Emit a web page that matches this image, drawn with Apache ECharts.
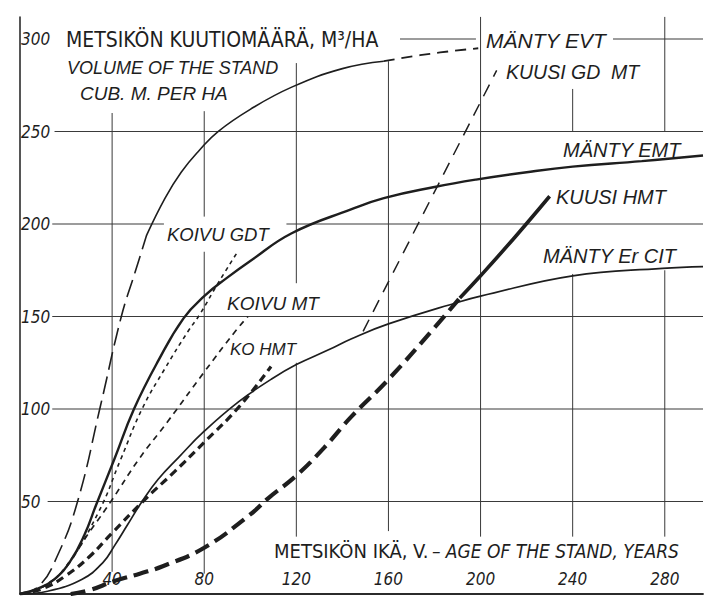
<!DOCTYPE html>
<html><head><meta charset="utf-8">
<script src="https://cdn.jsdelivr.net/npm/echarts@6/dist/echarts.min.js"></script>
<style>html,body{margin:0;padding:0;background:#fff}#c{width:706px;height:597px}</style>
</head><body><div id="c"></div><script>
// ---------------- data (age in years, volume m3/ha) ----------------
const xTickLabels = [40, 80, 120, 160, 200, 240, 280];
const yTickLabels = [50, 100, 150, 200, 250, 300];

// MÄNTY EVT : long-dashed start, solid middle, dashed end
const evtAgeA = [0, 8, 16, 25, 35, 44, 50, 55];
const evtVolA = [0, 4, 20, 50, 102, 150, 174, 194];
const evtAgeB = [55, 63, 70, 78, 86, 100, 118, 140, 158];
const evtVolB = [194, 214, 228, 240, 250, 262, 274, 284, 288];
const evtAgeC = [158, 178, 199];
const evtVolC = [288, 292, 295];

// MÄNTY EMT
const emtAge = [0, 8, 15, 22, 28, 33, 41, 49.5, 60, 71, 80, 90, 100, 118, 144, 158, 180, 198, 220, 240, 270, 296.6];
const emtVol = [0, 3, 8, 18, 32, 48, 73, 100, 126, 149, 161, 171, 180, 195, 208, 214, 220, 224, 228, 231, 234, 237];

// MÄNTY Er CIT
const ercAge = [0, 12, 27, 36, 41, 46.5, 53, 60, 69, 80, 95, 109, 120, 134, 144, 160, 191, 200, 240, 279, 296.6];
const ercVol = [0, 1.5, 8, 17, 26, 37, 50, 62, 74, 88, 104, 116, 124, 132, 138, 146, 158, 161, 172, 176, 177];

// KOIVU GDT
const kgdAge = [0, 10, 20, 34, 43.8, 53, 63, 73, 78, 86, 94];
const kgdVol = [0, 4, 15, 44, 73, 100, 122, 142, 151, 168, 184];

// KOIVU MT
const kmtAge = [0, 15, 31, 40, 51.7, 64, 80, 93.5, 99];
const kmtVol = [0, 8, 35, 51, 73, 93, 120, 142, 150];

// KO HMT
const khmAge = [0, 10, 20, 30, 40, 55, 67, 80, 95, 109];
const khmVol = [0, 3, 10, 20, 33, 52, 66, 82, 101, 123];

// KUUSI HMT : heavy dashes, then solid
const kuhAgeA = [22, 30, 41, 52, 62, 80, 100, 108, 120, 132, 144, 160, 180, 191];
const kuhVolA = [0, 2, 7, 11, 15, 25, 43, 52, 64, 79, 96, 116, 144, 160];
const kuhAgeB = [191, 200, 215, 230];
const kuhVolB = [160, 172, 193, 215];

// KUUSI GD MT
const kgmAge = [149, 207];
const kgmVol = [142, 283];

// grid line segments drawn in the reference (data units)
// vertical: [age, from volume, to volume]
const gridV = [[40, 12, 260], [80, 11, 185], [80, 204, 261], [120, 31, 125], [120, 168, 287],
  [160, 34, 288], [200, 31, 312], [240, 31, 173], [240, 250, 273], [280, 31, 175], [280, 250, 312]];
// horizontal: [volume, from age, to age]
const gridH = [[50, 12, 296.6], [100, 14, 296.6], [150, 14, 296.6], [200, 14, 62.5], [200, 115.7, 296.6],
  [250, 15, 296.6], [300, 165, 198], [300, 257.5, 296.6]];

// ---------------- chart ----------------
const INK = '#1e1e1e';
const GRIDC = '#3a3a3a';
const NARROW = "'Liberation Sans Narrow','DejaVu Sans Condensed',sans-serif";
const SANS = "'Liberation Sans',Arial,sans-serif";
const XMAX = 296.6, YMAX = 311.9;

const pairs = (a, v) => a.map((x, i) => [x, v[i]]);
function curve(name, a, v, width, dash) {
  return {
    type: 'line', name, data: pairs(a, v), smooth: 0.45, symbol: 'none', showSymbol: false,
    silent: true, z: 3,
    lineStyle: { color: INK, width, type: dash || 'solid', cap: 'butt' }
  };
}
function gridSeg(p0, p1) {
  return { type: 'line', data: [p0, p1], symbol: 'none', showSymbol: false, silent: true, z: 1,
    lineStyle: { color: GRIDC, width: 1, type: 'solid' } };
}
const gridSeries = gridV.map(g => gridSeg([g[0], g[1]], [g[0], g[2]]));

function txt(x, y, text, font) {
  return { type: 'text', x, y, silent: true, z: 2,
    style: { text, font, fill: INK, verticalAlign: 'middle', align: 'left' } };
}
const lab = (x, y, text, size) => txt(x, y, text, 'italic ' + size + 'px ' + SANS);

const texts = [
  txt(66, 40, 'METSIKÖN KUUTIOMÄÄRÄ, M³/HA', '21px ' + NARROW),
  lab(67, 68, 'VOLUME OF THE STAND', 18),
  lab(80, 93, 'CUB. M. PER HA', 19),
  lab(486, 40, 'MÄNTY EVT', 21),
  lab(506, 72, 'KUUSI GD  MT', 19.5),
  lab(563, 150, 'MÄNTY EMT', 20),
  lab(556, 197, 'KUUSI HMT', 20),
  lab(543, 256, 'MÄNTY Er CIT', 20),
  lab(167, 234, 'KOIVU GDT', 18.5),
  lab(227, 303, 'KOIVU MT', 19),
  lab(230, 349, 'KO HMT', 17),
  { type: 'text', x: 274, y: 551, silent: true, z: 2,
    style: { text: '{a|METSIKÖN IKÄ, V.} {b|– AGE OF THE STAND, YEARS}', verticalAlign: 'middle', fill: INK,
      rich: { a: { font: '20px ' + NARROW, fill: INK }, b: { font: 'italic 19px ' + NARROW, fill: INK } } } }
];

const chart = echarts.init(document.getElementById('c'), null, { renderer: 'svg' });
chart.setOption({
  animation: false,
  backgroundColor: '#fff',
  grid: { left: 20, right: 0, top: 17, bottom: 3 },
  xAxis: [{
    type: 'value', min: 0, max: XMAX, interval: 40,
    axisLine: { show: true, onZero: false, lineStyle: { color: INK, width: 1.5 } },
    axisTick: { show: false }, splitLine: { show: false },
    axisLabel: { inside: true, margin: 7, color: INK, fontSize: 17, fontStyle: 'italic', fontFamily: NARROW,
      formatter: v => xTickLabels.includes(v) ? String(v) : '' }
  }, {
    type: 'value', position: 'top', min: 0, max: XMAX,
    axisLine: { show: true, lineStyle: { color: INK, width: 1.5 } },
    axisTick: { show: false }, axisLabel: { show: false }, splitLine: { show: false }
  }],
  yAxis: {
    type: 'value', min: 0, max: YMAX, interval: 50,
    axisLine: { show: true, onZero: false, lineStyle: { color: INK, width: 1.5 } },
    axisTick: { show: false }, splitLine: { show: false },
    axisLabel: { inside: true, margin: 1, color: INK, fontSize: 17, fontStyle: 'italic', fontFamily: NARROW,
      formatter: v => yTickLabels.includes(v) ? String(v) : '' }
  },
  series: gridSeries.concat([
    curve('MÄNTY EVT', evtAgeA, evtVolA, 1.6, [18, 7]),
    curve('MÄNTY EVT', evtAgeB, evtVolB, 1.6),
    curve('MÄNTY EVT', evtAgeC, evtVolC, 1.8, [11, 7]),
    curve('MÄNTY EMT', emtAge, emtVol, 2.4),
    curve('MÄNTY Er CIT', ercAge, ercVol, 1.7),
    curve('KOIVU GDT', kgdAge, kgdVol, 1.6, [4, 4]),
    curve('KOIVU MT', kmtAge, kmtVol, 1.7, [6, 5]),
    curve('KO HMT', khmAge, khmVol, 3.2, [8, 5]),
    curve('KUUSI HMT', kuhAgeA, kuhVolA, 4.2, [15, 7]),
    curve('KUUSI HMT', kuhAgeB, kuhVolB, 3.6),
    curve('KUUSI GD MT', kgmAge, kgmVol, 1.5, [13, 9])
  ]),
  graphic: texts
});

// horizontal grid segments, placed through the chart's own axes
const finder = { xAxisIndex: 0, yAxisIndex: 0 };
const hRects = gridH.map(g => {
  const p0 = chart.convertToPixel(finder, [g[1], g[0]]);
  const p1 = chart.convertToPixel(finder, [g[2], g[0]]);
  return { type: 'rect', silent: true, z: 1,
    shape: { x: p0[0], y: p0[1] - 0.5, width: p1[0] - p0[0], height: 1 },
    style: { fill: GRIDC } };
});
chart.setOption({ graphic: texts.concat(hRects) });
</script></body></html>
